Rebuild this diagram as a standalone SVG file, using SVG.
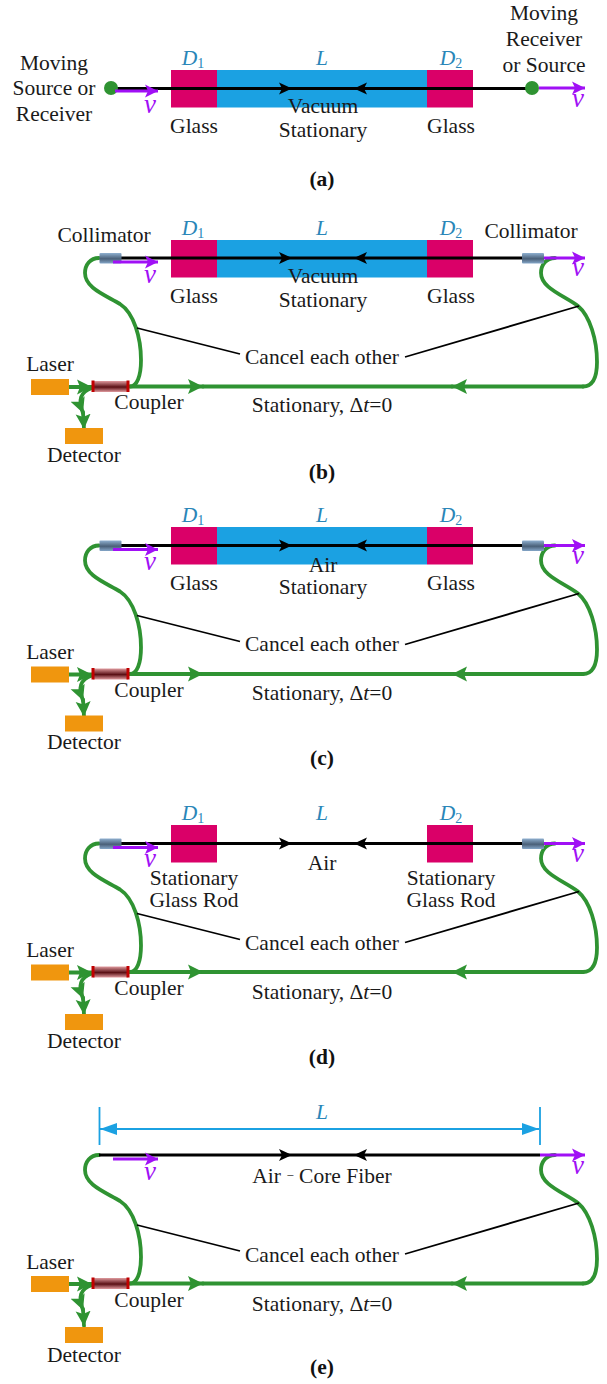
<svg xmlns="http://www.w3.org/2000/svg" xmlns:xlink="http://www.w3.org/1999/xlink" width="607" height="1384" viewBox="0 0 607 1384">
<style>
text{font-family:"Liberation Serif","Times New Roman",serif;font-size:21.5px;fill:#1a1a1a;text-anchor:middle}
.b{font-weight:bold;fill:#111}
.c{fill:#2a86b8;font-style:italic}
.i{font-style:italic}
.v{fill:#a010f5;font-style:italic;font-size:27px}
.s{font-size:14px;font-style:normal}
.m{font-size:13px}
.glass{fill:#da0068}
.blue{fill:#1ba1e2}
.org{fill:#f0960e}
.beam{stroke:#000;stroke-width:3;fill:none}
.thin{stroke:#000;stroke-width:1.8;fill:none}
.fib{stroke:#2f9332;stroke-width:3.8;fill:none;stroke-linecap:round}
.pur{stroke:#a010f5;stroke-width:2.8;fill:none}
.dim{stroke:#1ba1e2;stroke-width:1.8;fill:none}
</style>
<defs>
<linearGradient id="colG" x1="0" y1="0" x2="0" y2="1"><stop offset="0" stop-color="#8fb0d0"/><stop offset="0.55" stop-color="#4a6078"/><stop offset="1" stop-color="#84a6c8"/></linearGradient>
<linearGradient id="cplG" x1="0" y1="0" x2="0" y2="1"><stop offset="0" stop-color="#e09a9e"/><stop offset="0.55" stop-color="#5a1015"/><stop offset="1" stop-color="#e09a9e"/></linearGradient>
<marker id="mK" markerUnits="userSpaceOnUse" viewBox="0 0 14 14" markerWidth="14" markerHeight="14" refX="13" refY="7" orient="auto"><path d="M0,1 L13,7 L0,13 L3,7 z" fill="#000"/></marker>
<marker id="mG" markerUnits="userSpaceOnUse" viewBox="0 0 16 16" markerWidth="16" markerHeight="16" refX="15" refY="8" orient="auto"><path d="M0,0.500 L15,8 L0,15.500 L3,8 z" fill="#2f9332"/></marker>
<marker id="mP" markerUnits="userSpaceOnUse" viewBox="0 0 14 14" markerWidth="14" markerHeight="14" refX="13" refY="7" orient="auto"><path d="M0,0.500 L13,7 L0,13.500 L3,7 z" fill="#a010f5"/></marker>
<marker id="mB" markerUnits="userSpaceOnUse" viewBox="0 0 18 14" markerWidth="18" markerHeight="14" refX="17" refY="7" orient="auto"><path d="M0,1 L17,7 L0,13 z" fill="#1ba1e2"/></marker>
<g id="beamLine">
<path class="beam" d="M121,0 H292" marker-end="url(#mK)"/>
<path class="beam" d="M522,0 H354" marker-end="url(#mK)"/>
<path class="beam" d="M292,0 H354"/>
</g>
<g id="fiberLoop">
<path class="fib" d="M99,0 C90,0 85,7 85,15 C85,30 105,37 120,46 C134,55 141,80 141,102 C141,118 137,128.500 130,128.500"/>
<path class="fib" d="M130,128.500 H203" marker-end="url(#mG)"/>
<path class="fib" d="M583,128.500 H452" marker-end="url(#mG)"/>
<path class="fib" d="M203,128.500 H452"/>
<path class="fib" d="M555,0 C546,0 541,7 541,15 C541,30 563,37 578,48 C590,58 597,82 597,104 C597,120 593,128.500 583,128.500"/>
<path class="fib" d="M69,129 H92" marker-end="url(#mG)"/>
<path class="fib" d="M92,130 C80,134 78,142 83,155" marker-end="url(#mG)"/>
<path class="fib" d="M83,154 L84,171" marker-end="url(#mG)"/>
<path class="thin" d="M137,70 L240,96"/>
<path class="thin" d="M405,99 L579,48"/>
</g>
<g id="coupler"><rect x="93" y="-5" width="35" height="11" fill="url(#cplG)"/><path d="M93,-5.500 V6 M128,-5.500 V6" stroke="#c00000" stroke-width="3"/></g>
<rect id="collim" x="0" y="-5" width="22" height="10.500" rx="1" fill="url(#colG)"/>
</defs>

<g id="media">
<g id="a-glass-left"><rect class="glass" x="171" y="70" width="46" height="37.500"/></g>
<rect id="a-vacuum" class="blue" x="217" y="70" width="210" height="37.500"/>
<g id="a-glass-right"><rect class="glass" x="427" y="70" width="46" height="37.500"/></g>
<g id="b-glass-left"><rect class="glass" x="171" y="240" width="46" height="37.500"/></g>
<rect id="b-vacuum" class="blue" x="217" y="240" width="210" height="37.500"/>
<g id="b-glass-right"><rect class="glass" x="427" y="240" width="46" height="37.500"/></g>
<g id="c-glass-left"><rect class="glass" x="171" y="527" width="46" height="37.500"/></g>
<rect id="c-air" class="blue" x="217" y="527" width="210" height="37.500"/>
<g id="c-glass-right"><rect class="glass" x="427" y="527" width="46" height="37.500"/></g>
<g id="d-glass-left"><rect class="glass" x="171" y="825" width="46" height="37.500"/></g>
<g id="d-glass-right"><rect class="glass" x="427" y="825" width="46" height="37.500"/></g>
</g>

<g id="connectors">
<path class="beam" d="M110,88.500 H292" marker-end="url(#mK)"/>
<path class="beam" d="M532,88.500 H354" marker-end="url(#mK)"/>
<path class="beam" d="M292,88.500 H354"/>
<use xlink:href="#fiberLoop" transform="translate(0,258)"/>
<use xlink:href="#beamLine" transform="translate(0,258)"/>
<use xlink:href="#fiberLoop" transform="translate(0,545.500)"/>
<use xlink:href="#beamLine" transform="translate(0,545.500)"/>
<use xlink:href="#fiberLoop" transform="translate(0,843.500)"/>
<use xlink:href="#beamLine" transform="translate(0,843.500)"/>
<use xlink:href="#fiberLoop" transform="translate(0,1155)"/>
<path class="beam" d="M99,1155 H292" marker-end="url(#mK)"/>
<path class="beam" d="M540,1155 H354" marker-end="url(#mK)"/>
<path class="beam" d="M292,1155 H354"/>
<path class="dim" d="M99.500,1107 V1145 M540,1107 V1145"/>
<path class="dim" d="M322,1129 H100" marker-end="url(#mB)"/>
<path class="dim" d="M322,1129 H539" marker-end="url(#mB)"/>
</g>

<g id="panel-a">
<circle cx="111" cy="88" r="7" fill="#2f9332"/>
<circle cx="532" cy="88" r="7" fill="#2f9332"/>
<path class="pur" d="M115,91 H158" marker-end="url(#mP)"/>
<path class="pur" d="M539,88 H585" marker-end="url(#mP)"/>
<text class="v" x="150" y="113">v</text>
<text class="v" x="578" y="107">v</text>
<text x="54" y="70">Moving</text><text x="54" y="95">Source or</text><text x="54" y="121">Receiver</text>
<text x="544" y="20">Moving</text><text x="544" y="46">Receiver</text><text x="544" y="72">or Source</text>
<text class="c" x="193" y="65">D<tspan class="s" dy="3">1</tspan></text>
<text class="c" x="322" y="65">L</text>
<text class="c" x="451" y="65">D<tspan class="s" dy="3">2</tspan></text>
<text x="194" y="133">Glass</text><text x="451" y="133">Glass</text>
<text x="323" y="113">Vacuum</text><text x="323" y="137">Stationary</text>
<text class="b" x="322" y="186">(a)</text>
</g>

<g id="panel-b">
<use xlink:href="#collim" transform="translate(99.500,258)"/>
<use xlink:href="#collim" transform="translate(522,258)"/>
<path class="pur" d="M113,262 H158" marker-end="url(#mP)"/>
<path class="pur" d="M544,258 H585" marker-end="url(#mP)"/>
<use xlink:href="#coupler" transform="translate(0,386)"/>
<rect class="org" x="31" y="379" width="38" height="16"/>
<rect class="org" x="65" y="428" width="38" height="16"/>
<text class="v" x="150" y="283">v</text><text class="v" x="578" y="276">v</text>
<text x="104" y="242">Collimator</text><text x="531" y="238">Collimator</text>
<text class="c" x="193" y="235">D<tspan class="s" dy="3">1</tspan></text><text class="c" x="322" y="235">L</text><text class="c" x="451" y="235">D<tspan class="s" dy="3">2</tspan></text>
<text x="194" y="303">Glass</text><text x="451" y="303">Glass</text>
<text x="323" y="283">Vacuum</text><text x="323" y="307">Stationary</text>
<text x="322" y="364">Cancel each other</text>
<text x="50" y="371">Laser</text><text x="149" y="409">Coupler</text><text x="84" y="462">Detector</text>
<text x="322" y="412">Stationary, Δ<tspan class="i">t</tspan>=0</text>
<text class="b" x="322" y="479">(b)</text>
</g>

<g id="panel-c">
<use xlink:href="#collim" transform="translate(99.500,545.500)"/>
<use xlink:href="#collim" transform="translate(522,545.500)"/>
<path class="pur" d="M113,549.500 H158" marker-end="url(#mP)"/>
<path class="pur" d="M544,545.500 H585" marker-end="url(#mP)"/>
<use xlink:href="#coupler" transform="translate(0,673.500)"/>
<rect class="org" x="31" y="666.500" width="38" height="16"/>
<rect class="org" x="65" y="715.500" width="38" height="16"/>
<text class="v" x="150" y="570">v</text><text class="v" x="578" y="564">v</text>
<text class="c" x="193" y="522">D<tspan class="s" dy="3">1</tspan></text><text class="c" x="322" y="522">L</text><text class="c" x="451" y="522">D<tspan class="s" dy="3">2</tspan></text>
<text x="194" y="590">Glass</text><text x="451" y="590">Glass</text>
<text x="323" y="572">Air</text><text x="323" y="594">Stationary</text>
<text x="322" y="651">Cancel each other</text>
<text x="50" y="659">Laser</text><text x="149" y="697">Coupler</text><text x="84" y="749">Detector</text>
<text x="322" y="700">Stationary, Δ<tspan class="i">t</tspan>=0</text>
<text class="b" x="322" y="765">(c)</text>
</g>

<g id="panel-d">
<use xlink:href="#collim" transform="translate(99.500,843.500)"/>
<use xlink:href="#collim" transform="translate(522,843.500)"/>
<path class="pur" d="M113,847.500 H158" marker-end="url(#mP)"/>
<path class="pur" d="M544,843.500 H585" marker-end="url(#mP)"/>
<use xlink:href="#coupler" transform="translate(0,971.500)"/>
<rect class="org" x="31" y="964.500" width="38" height="16"/>
<rect class="org" x="65" y="1014" width="38" height="16"/>
<text class="v" x="150" y="867">v</text><text class="v" x="578" y="862">v</text>
<text class="c" x="193" y="820">D<tspan class="s" dy="3">1</tspan></text><text class="c" x="322" y="820">L</text><text class="c" x="451" y="820">D<tspan class="s" dy="3">2</tspan></text>
<text x="322" y="870">Air</text>
<text x="194" y="885">Stationary</text><text x="194" y="907">Glass Rod</text>
<text x="451" y="885">Stationary</text><text x="451" y="907">Glass Rod</text>
<text x="322" y="950">Cancel each other</text>
<text x="50" y="957">Laser</text><text x="149" y="995">Coupler</text><text x="84" y="1048">Detector</text>
<text x="322" y="999">Stationary, Δ<tspan class="i">t</tspan>=0</text>
<text class="b" x="322" y="1064">(d)</text>
</g>

<g id="panel-e">
<path class="pur" d="M113,1159 H158" marker-end="url(#mP)"/>
<path class="pur" d="M540,1155 H585" marker-end="url(#mP)"/>
<use xlink:href="#coupler" transform="translate(0,1283)"/>
<rect class="org" x="31" y="1276" width="38" height="16"/>
<rect class="org" x="65" y="1327" width="38" height="16"/>
<text class="v" x="150" y="1180">v</text><text class="v" x="578" y="1174">v</text>
<text class="c" x="322" y="1119">L</text>
<text x="322" y="1183">Air <tspan class="m" dy="-3">−</tspan><tspan dy="3"> Core Fiber</tspan></text>
<text x="322" y="1262">Cancel each other</text>
<text x="50" y="1269">Laser</text><text x="149" y="1307">Coupler</text><text x="84" y="1362">Detector</text>
<text x="322" y="1311">Stationary, Δ<tspan class="i">t</tspan>=0</text>
<text class="b" x="322" y="1374">(e)</text>
</g>
</svg>
